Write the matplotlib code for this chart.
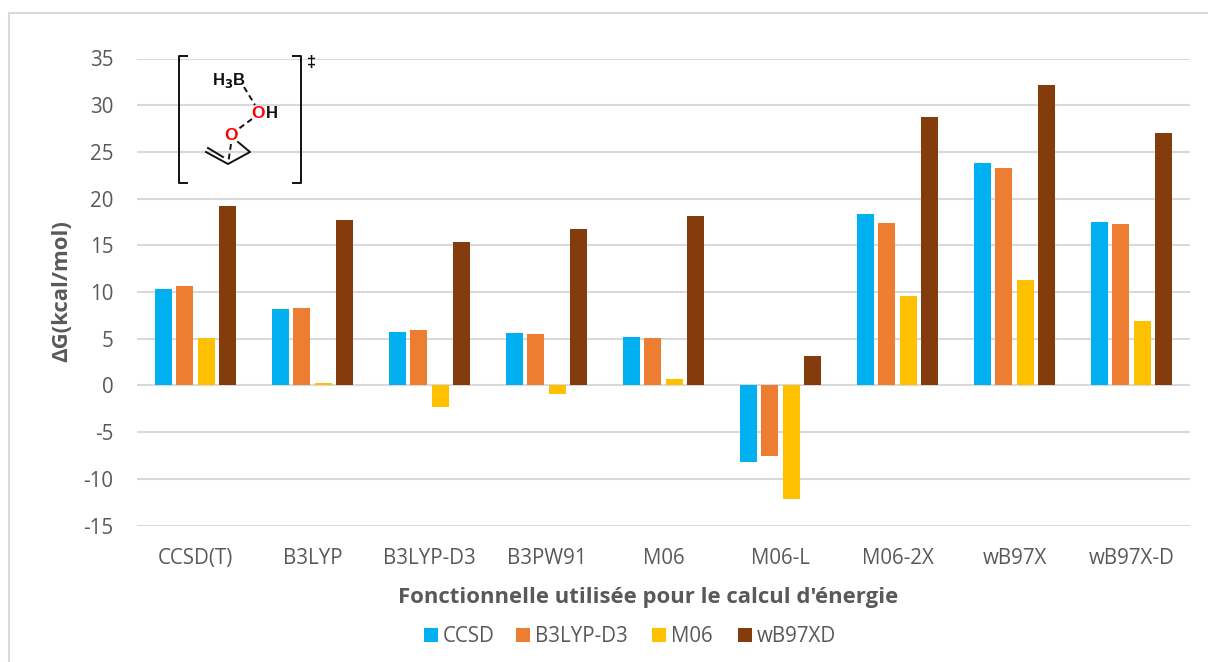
import matplotlib.pyplot as plt
import numpy as np

plt.rcParams['font.family'] = ['Open Sans', 'DejaVu Sans']
plt.rcParams['axes.unicode_minus'] = False

W = 1208
H = 662

functionals = ['CCSD(T)', 'B3LYP', 'B3LYP-D3', 'B3PW91', 'M06', 'M06-L', 'M06-2X', 'wB97X', 'wB97X-D']
ccsd = [10.3, 8.2, 5.7, 5.6, 5.2, -8.2, 18.4, 23.8, 17.5]
b3lyp_d3 = [10.6, 8.3, 5.9, 5.5, 5.1, -7.6, 17.4, 23.3, 17.3]
m06 = [5.1, 0.3, -2.3, -0.9, 0.7, -12.2, 9.6, 11.3, 6.9]
wb97xd = [19.2, 17.7, 15.4, 16.7, 18.1, 3.2, 28.7, 32.2, 27.0]
series_names = ['CCSD', 'B3LYP-D3', 'M06', 'wB97XD']
colors = ['#00B0F0', '#ED7D31', '#FFC000', '#843C0C']
y_ticks = list(range(-15, 40, 5))

grey = '#595959'
fig = plt.figure(figsize=(W / 100, H / 100), dpi=100)

# plot area, placed in pixels
left, right, top, bottom = 137, 1190, 58.5, 525.5
ax = fig.add_axes([left / W, 1 - bottom / H, (right - left) / W, (bottom - top) / H])

x = np.arange(len(functionals))
bw = 17 / 117
step = 21.3 / 117
for i, vals in enumerate([ccsd, b3lyp_d3, m06, wb97xd]):
    ax.bar(x + (i - 1.5) * step, vals, bw, color=colors[i], label=series_names[i], zorder=3)

ax.set_xlim(-0.5, len(functionals) - 0.5)
ax.set_ylim(-15, 35)
ax.set_yticks(y_ticks)
ax.set_xticks(x)
ax.set_xticklabels(functionals)
ax.tick_params(length=0, labelsize=14.8, labelcolor=grey)
ax.tick_params(axis='y', pad=17)
ax.tick_params(axis='x', pad=16.5)
ax.grid(axis='y', color='#D9D9D9', lw=1.5, zorder=0)
ax.set_axisbelow(True)
for s in ax.spines.values():
    s.set_visible(False)

# pixel overlay for frame, labels, legend and the molecule
ov = fig.add_axes([0, 0, 1, 1], zorder=5)
ov.set_xlim(0, W)
ov.set_ylim(H, 0)
ov.axis('off')
ov.patch.set_alpha(0)

ov.plot([8.5, 8.5, W], [H, 13, 13], color='#D9D9D9', lw=1.5)

ov.text(648, 598, "Fonctionnelle utilisée pour le calcul d'énergie", ha='center', va='center',
        fontsize=15.9, fontweight='bold', color=grey)
ov.text(62, 291, 'ΔG(kcal/mol)', ha='center', va='center', rotation=90,
        fontsize=15.9, fontweight='bold', color=grey)

leg_x = [424, 516, 652, 738]
for name, col, lx in zip(series_names, colors, leg_x):
    ov.add_patch(plt.Rectangle((lx, 628), 14, 14, color=col, lw=0))
    ov.text(lx + 19, 636, name, ha='left', va='center', fontsize=14.8, color=grey)

# transition state sketch
ink = '#111111'
ov.plot([187, 179, 179, 187], [56, 56, 183, 183], color=ink, lw=1.4)
ov.plot([293, 301, 301, 293], [56, 56, 183, 183], color=ink, lw=1.4)
ov.text(312, 62, '‡', ha='center', va='center', fontsize=12, fontweight='bold', color=ink,
        family=['Liberation Sans', 'DejaVu Sans'])
dash = (0, (3, 2))
ov.plot([244, 255], [87, 105], color=ink, lw=1.4, ls=dash)
ov.plot([252, 237], [119, 130], color=ink, lw=1.4, ls=dash)
ov.plot([231, 228], [144, 164], color=ink, lw=1.4, ls=dash)
ov.plot([206, 228, 250, 238], [152, 164, 152, 142], color=ink, lw=1.4)
ov.plot([208, 223], [148, 157], color=ink, lw=1.4)
mol_font = ['Liberation Sans', 'DejaVu Sans']
ov.text(229, 81, 'H$_{\\mathbf{3}}$B', ha='center', va='center', fontsize=12, fontweight='bold',
        color=ink, family=mol_font)
ov.text(258, 113, 'O', ha='center', va='center', fontsize=12.5, fontweight='bold', color='#FF0000', family=mol_font)
ov.text(272, 113, 'H', ha='center', va='center', fontsize=12, fontweight='bold', color=ink, family=mol_font)
ov.text(231, 136, 'O', ha='center', va='center', fontsize=12.5, fontweight='bold', color='#FF0000', family=mol_font)

fig.savefig('out.png', dpi=100)
